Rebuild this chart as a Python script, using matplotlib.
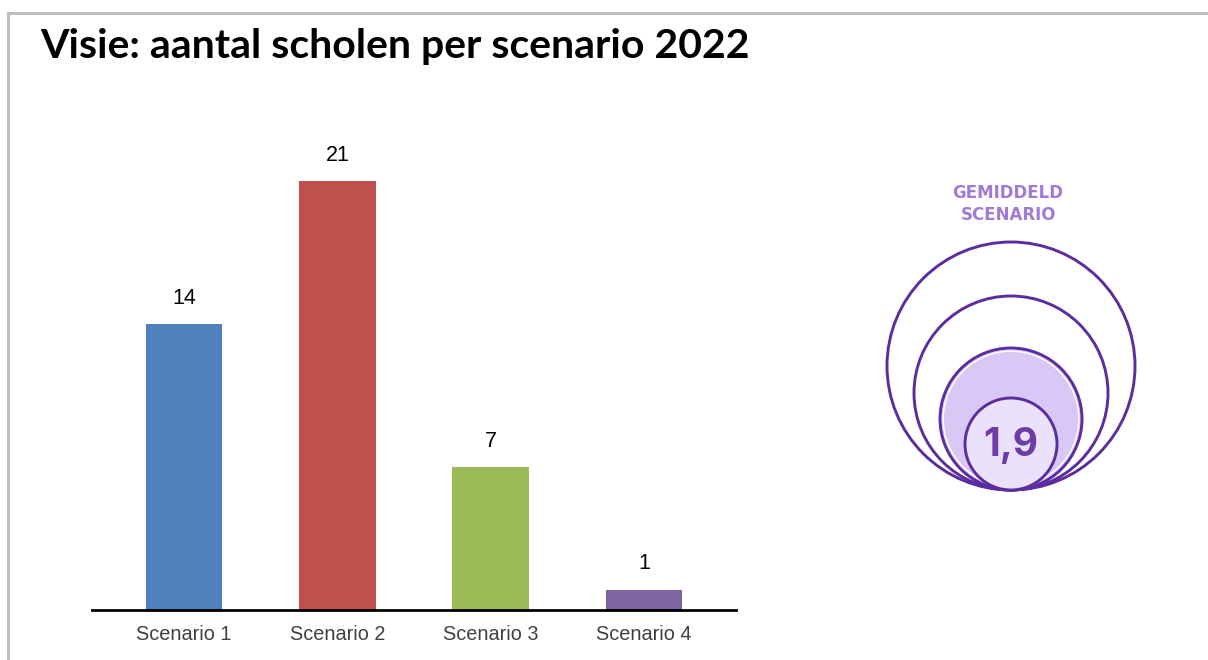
import matplotlib
matplotlib.use("Agg")
import matplotlib.pyplot as plt
from matplotlib.patches import Circle
from matplotlib.lines import Line2D

categories = ["Scenario 1", "Scenario 2", "Scenario 3", "Scenario 4"]
values = [14, 21, 7, 1]
bar_colors = ["#4f81bd", "#c0504d", "#9bbb59", "#8064a2"]
title = "Visie: aantal scholen per scenario 2022"
avg_label = "GEMIDDELD\nSCENARIO"
avg_value = "1,9"

W, H = 1208, 660
fig = plt.figure(figsize=(W / 100, H / 100), dpi=100)
fig.patch.set_facecolor("white")

# frame lines (top and left)
fig.add_artist(Line2D([8 / W, 1], [1 - 13 / H, 1 - 13 / H], color="#bfbfbf", lw=2.2))
fig.add_artist(Line2D([8 / W, 8 / W], [0, 1 - 13 / H], color="#bfbfbf", lw=2.2))

fig.text(40 / W, 1 - 58 / H, title, fontsize=29.5, fontweight="bold",
         family=["Lato", "DejaVu Sans"], va="baseline", ha="left")

# bar chart
ax = fig.add_axes([92 / W, 1 - 610 / H, (736 - 92) / W, (610 - 140) / H])
x = list(range(len(categories)))
ax.bar(x, values, width=0.5, color=bar_colors)
ax.set_xlim(-0.6, 3.6)
ax.set_ylim(0, 23)
for xi, v in zip(x, values):
    ax.annotate(str(v), (xi, v), xytext=(0, 11), textcoords="offset points",
                ha="center", va="bottom", fontsize=15.5, color="black",
                family="Liberation Sans")
ax.set_xticks(x)
ax.set_xticklabels(categories, fontsize=14.3, color="#404040", family="Liberation Sans")
ax.tick_params(axis="x", length=0, pad=11)
ax.set_yticks([])
for s in ["top", "right", "left"]:
    ax.spines[s].set_visible(False)
ax.spines["bottom"].set_linewidth(2)
ax.spines["bottom"].set_color("black")

# average scenario graphic
ax2 = fig.add_axes([0, 0, 1, 1])
ax2.set_xlim(0, W)
ax2.set_ylim(H, 0)
ax2.axis("off")
cx, by = 1011, 490
radii = [124, 97, 71, 46]
edge = "#5b2d9e"
lw = 2.1
ax2.add_patch(Circle((cx, by - radii[0]), radii[0], facecolor="none", edgecolor=edge, lw=lw))
ax2.add_patch(Circle((cx, by - radii[1]), radii[1], facecolor="none", edgecolor=edge, lw=lw))
ax2.add_patch(Circle((cx, by - radii[2]), radii[2], facecolor="#d9c7f6", edgecolor=edge, lw=lw))
ax2.add_patch(Circle((cx, by - radii[2]), radii[2] - 3.2, facecolor="none", edgecolor="white", lw=1.0))
ax2.add_patch(Circle((cx, by - radii[3]), radii[3], facecolor="#ece1fb", edgecolor=edge, lw=lw))
ax2.text(cx, by - radii[3] + 2, avg_value, ha="center", va="center", fontsize=28,
         color="#6a3ea5", fontweight="bold", family="Inter")
ax2.text(1008, 204, avg_label, ha="center", va="center", fontsize=12,
         color="#a07ad6", fontweight="bold", family="DejaVu Sans", linespacing=1.3)

fig.savefig("out.png", dpi=100, facecolor="white")
